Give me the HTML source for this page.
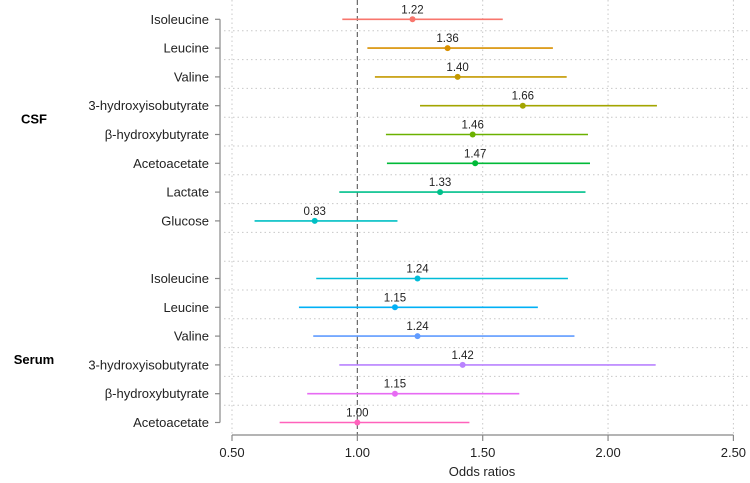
<!DOCTYPE html>
<html><head><meta charset="utf-8"><style>
body{margin:0;background:#fff;}
svg{display:block;font-family:"Liberation Sans",Arial,sans-serif;}
</style></head><body>
<svg id="chart" width="750" height="483" viewBox="0 0 750 483"></svg>
<script>
const labels=["Isoleucine","Leucine","Valine","3-hydroxyisobutyrate","β-hydroxybutyrate","Acetoacetate","Lactate","Glucose","","Isoleucine","Leucine","Valine","3-hydroxyisobutyrate","β-hydroxybutyrate","Acetoacetate"];
const estimates=[1.22,1.36,1.40,1.66,1.46,1.47,1.33,0.83,null,1.24,1.15,1.24,1.42,1.15,1.00];
const lower=[0.94,1.04,1.07,1.25,1.114,1.118,0.928,0.59,null,0.836,0.767,0.824,0.928,0.80,0.69];
const upper=[1.58,1.78,1.835,2.195,1.92,1.928,1.91,1.16,null,1.84,1.72,1.866,2.19,1.646,1.447];
const valueLabels=["1.22","1.36","1.40","1.66","1.46","1.47","1.33","0.83","","1.24","1.15","1.24","1.42","1.15","1.00"];
const xTicks=[0.5,1.0,1.5,2.0,2.5];
const xTickLabels=["0.50","1.00","1.50","2.00","2.50"];
const colors=["#F8766D","#D89000","#C49A00","#A3A500","#6BB100","#00BA38","#00C08B","#00BFC4",null,"#00BCD8","#00B0F6","#619CFF","#B983FF","#E76BF3","#FF62BC"];
const NS="http://www.w3.org/2000/svg";
const svg=document.getElementById('chart');
const x=v=>232+(v-0.5)*250.7;
const y=i=>19.3+28.8*i;
function mk(t,a,p){const e=document.createElementNS(NS,t);for(const k in a)e.setAttribute(k,a[k]);(p||svg).appendChild(e);return e;}
xTicks.forEach((v,i)=>{if(v===1.0)return;
 const g=mk('line',{x1:x(v),x2:x(v),y1:0,y2:435,stroke:'#c8c8c8','stroke-width':1,'stroke-dasharray':'1.5,3'});
 
 });
for(let i=0;i<14;i++){
 const g=mk('line',{x1:224,x2:750,y1:y(i)+11.5,y2:y(i)+11.5,stroke:'#c8c8c8','stroke-width':1,'stroke-dasharray':'1.5,3'});
 
 }
const rl=mk('line',{x1:x(1),x2:x(1),y1:0,y2:435,stroke:'#666','stroke-width':1.2,'stroke-dasharray':'5,3'});


const ya=mk('line',{x1:220,x2:220,y1:y(0),y2:y(14),stroke:'#888','stroke-width':1.2});


labels.forEach((l,i)=>{if(!l)return;
 const t=mk('line',{x1:215,x2:220,y1:y(i),y2:y(i),stroke:'#888','stroke-width':1.2});
 
 
 const tx=mk('text',{x:209,y:y(i)+4.5,'text-anchor':'end','font-size':13,fill:'#222'});
 tx.textContent=l;
 
 });
[["CSF",y(3.45)],["Serum",y(11.8)]].forEach(([g,yy])=>{
 const t=mk('text',{x:34,y:yy+5,'text-anchor':'middle','font-size':13,'font-weight':'bold',fill:'#000'});
 t.textContent=g;
 
 });
const xa=mk('line',{x1:x(0.5),x2:x(2.5),y1:435,y2:435,stroke:'#888','stroke-width':1.2});


xTicks.forEach((v,i)=>{
 const t=mk('line',{x1:x(v),x2:x(v),y1:435,y2:441,stroke:'#888','stroke-width':1.2});
 
 
 const tx=mk('text',{x:x(v),y:457,'text-anchor':'middle','font-size':13,fill:'#222'});
 tx.textContent=xTickLabels[i];
 
 });
const xt=mk('text',{x:482,y:476,'text-anchor':'middle','font-size':13,fill:'#222'});
xt.textContent="Odds ratios";


estimates.forEach((e,i)=>{if(e===null)return;
 const ln=mk('line',{x1:x(lower[i]),x2:x(upper[i]),y1:y(i),y2:y(i),stroke:colors[i],'stroke-width':1.6});
 
 
 const c=mk('circle',{cx:x(e),cy:y(i),r:3,fill:colors[i]});
 
 
 const t=mk('text',{x:x(e),y:y(i)-6,'text-anchor':'middle','font-size':11.5,fill:'#222'});
 t.textContent=valueLabels[i];
 
 });
</script>
</body></html>
